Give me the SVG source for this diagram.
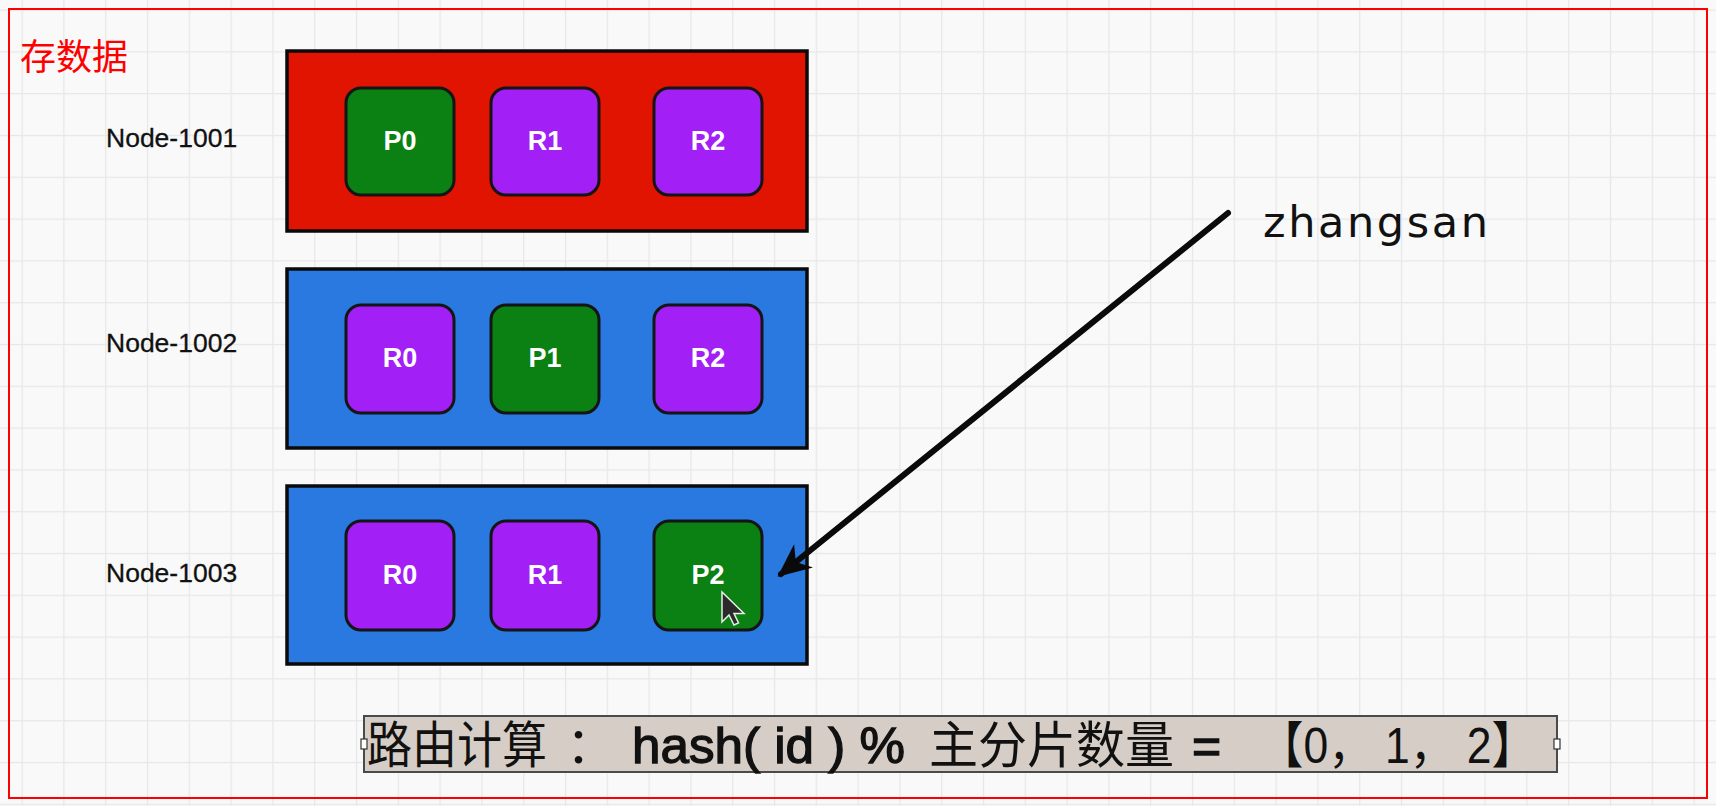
<svg xmlns="http://www.w3.org/2000/svg" width="1716" height="806" viewBox="0 0 1716 806">
<style>
.lbl{font-family:"Liberation Sans",Arial,sans-serif;font-size:26.5px;fill:#111;stroke:#111;stroke-width:0.3}
.host{stroke:#0a0a0a;stroke-width:3.5}
.red{fill:#e01400}
.blue{fill:#2a79e0}
.shard{stroke:#151515;stroke-width:3}
.p{fill:#0b8013}
.r{fill:#a21ff6}
.st{font-family:"Liberation Sans",Arial,sans-serif;font-size:27px;font-weight:bold;fill:#fff;text-anchor:middle}
.bt{font-family:"Liberation Sans","Noto Sans CJK SC",sans-serif;font-size:50px;fill:#111}
.bb{stroke:#111;stroke-width:1.3}
</style>
<defs>
<pattern id="grid" x="21.5" y="9.5" width="41.8" height="41.8" patternUnits="userSpaceOnUse">
<path d="M0 0.5H41.8M0.5 0V41.8" fill="none" stroke="#e7e7e7" stroke-width="1.5"/>
</pattern>
<marker id="ah" viewBox="0 0 10 9" refX="8.7" refY="4.5" markerWidth="5.6" markerHeight="5" orient="auto" markerUnits="strokeWidth">
<path d="M0 0L10 4.5L0 9L3 4.5Z" fill="#0a0a0a"/>
</marker>
</defs>
<rect width="1716" height="806" fill="#f9f9f9"/>
<rect width="1716" height="806" fill="url(#grid)"/>
<rect x="9" y="9" width="1698" height="789" fill="none" stroke="#ff0000" stroke-width="2"/>
<text x="20" y="70" font-family="'Noto Sans CJK SC',sans-serif" font-size="36" fill="#ff0000">存数据</text>

<g id="node-1001">
<text class="lbl" x="106" y="147">Node-1001</text>
<rect class="host red" x="287" y="51" width="520" height="180"/>
<rect class="shard p" x="346" y="88" width="108" height="107" rx="15"/>
<text class="st" x="400" y="150">P0</text>
<rect class="shard r" x="491" y="88" width="108" height="107" rx="15"/>
<text class="st" x="545" y="150">R1</text>
<rect class="shard r" x="654" y="88" width="108" height="107" rx="15"/>
<text class="st" x="708" y="150">R2</text>
</g>

<g id="node-1002">
<text class="lbl" x="106" y="352">Node-1002</text>
<rect class="host blue" x="287" y="269" width="520" height="179"/>
<rect class="shard r" x="346" y="305" width="108" height="108" rx="15"/>
<text class="st" x="400" y="367">R0</text>
<rect class="shard p" x="491" y="305" width="108" height="108" rx="15"/>
<text class="st" x="545" y="367">P1</text>
<rect class="shard r" x="654" y="305" width="108" height="108" rx="15"/>
<text class="st" x="708" y="367">R2</text>
</g>

<g id="node-1003">
<text class="lbl" x="106" y="582">Node-1003</text>
<rect class="host blue" x="287" y="486" width="520" height="178"/>
<rect class="shard r" x="346" y="521" width="108" height="109" rx="15"/>
<text class="st" x="400" y="584">R0</text>
<rect class="shard r" x="491" y="521" width="108" height="109" rx="15"/>
<text class="st" x="545" y="584">R1</text>
<rect class="shard p" x="654" y="521" width="108" height="109" rx="15"/>
<text class="st" x="708" y="584">P2</text>
<path d="M722 592L722 622L729 615L734 625L738.5 623L734 613.5L744 613.5Z" fill="#2a2a2a" stroke="#e8f0e8" stroke-width="1.5"/>
</g>

<g id="zhangsan">
<text x="1263" y="237" font-family="'DejaVu Sans',sans-serif" font-size="43" fill="#111" textLength="225" lengthAdjust="spacing">zhangsan</text>
</g>

<g id="connectors">
<line x1="1228" y1="213" x2="781" y2="574" stroke="#0a0a0a" stroke-width="6" stroke-linecap="round" marker-end="url(#ah)"/>
</g>

<g id="formula">
<rect x="364" y="716" width="1193" height="56" fill="#d6cec6" stroke="#4a4a4a" stroke-width="2"/>
<rect x="361" y="739" width="6" height="10" fill="#fff" stroke="#333" stroke-width="1.2"/>
<rect x="1554" y="739" width="6" height="10" fill="#fff" stroke="#333" stroke-width="1.2"/>
<text class="bt" x="367" y="763" textLength="180" lengthAdjust="spacingAndGlyphs">路由计算</text>
<text class="bt" x="566" y="763">：</text>
<text class="bt bb" x="632" y="763" textLength="273" lengthAdjust="spacingAndGlyphs">hash( id ) %</text>
<text class="bt" x="929" y="763" textLength="245" lengthAdjust="spacingAndGlyphs">主分片数量</text>
<text class="bt bb" x="1192" y="763">=</text>
<text class="bt" x="1259" y="763" textLength="277" lengthAdjust="spacingAndGlyphs">【0， 1， 2】</text>
</g>
</svg>
